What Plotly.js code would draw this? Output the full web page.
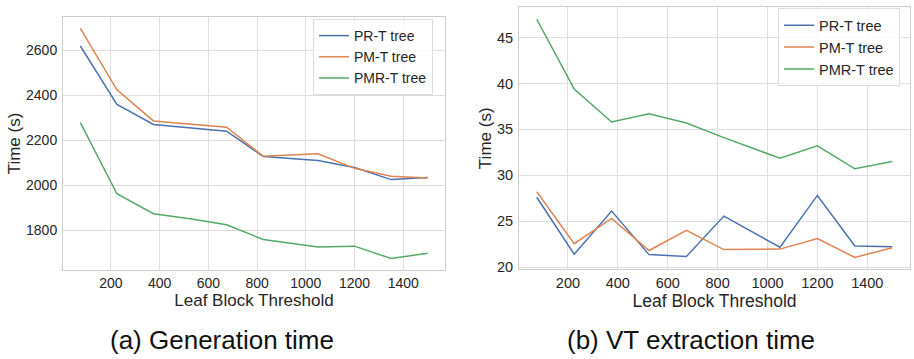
<!DOCTYPE html>
<html>
<head>
<meta charset="utf-8">
<script src="https://cdn.plot.ly/plotly-3.0.1.min.js"></script>
<style>html,body{margin:0;padding:0;background:#fff;}#chart{width:914px;height:359px;}</style>
</head>
<body>
<div id="chart"></div>
<script>
// Data
const thresholds = [75, 225, 375, 525, 675, 825, 1050, 1200, 1350, 1500];
const seriesNames = ["PR-T tree", "PM-T tree", "PMR-T tree"];
const genPR  = [2620, 2360, 2271, 2256, 2241, 2129, 2111, 2080, 2026, 2035];
const genPM  = [2698, 2425, 2287, 2273, 2259, 2130, 2141, 2076, 2041, 2033];
const genPMR = [2279, 1963, 1874, 1852, 1825, 1760, 1726, 1730, 1675, 1698];
const vtPR   = [27.6, 21.4, 26.1, 21.35, 21.15, 25.55, 22.15, 27.8, 22.3, 22.2];
const vtPM   = [28.2, 22.55, 25.3, 21.8, 24.0, 21.9, 21.95, 23.1, 21.05, 22.1];
const vtPMR  = [47.0, 39.4, 35.8, 36.7, 35.7, 34.1, 31.85, 33.2, 30.7, 31.5];
const xTicks = [200, 400, 600, 800, 1000, 1200, 1400];
const genYTicks = [1800, 2000, 2200, 2400, 2600];
const vtYTicks = [20, 25, 30, 35, 40, 45];
const xTitle = "Leaf Block Threshold";
const yTitle = "Time (s)";
const subTitles = ["(a) Generation time", "(b) VT extraction time"];

const colors = ["#4C72B0", "#DD8452", "#55A868"];
const FONT = "Liberation Sans, Arial, sans-serif";
const W = 914, H = 359;

function mk(x, y, i, xa, ya, leg) {
  return {x: x, y: y, name: seriesNames[i], type: "scatter", mode: "lines",
    xaxis: xa, yaxis: ya, legend: leg,
    line: {color: colors[i], width: 1.5}};
}
const traces = [
  mk(thresholds, genPR, 0, "x", "y", "legend"),
  mk(thresholds, genPM, 1, "x", "y", "legend"),
  mk(thresholds, genPMR, 2, "x", "y", "legend"),
  mk(thresholds, vtPR, 0, "x2", "y2", "legend2"),
  mk(thresholds, vtPM, 1, "x2", "y2", "legend2"),
  mk(thresholds, vtPMR, 2, "x2", "y2", "legend2")
];

function axBase(fs) {
  return {showgrid: true, gridcolor: "#dedede", gridwidth: 1,
    showline: true, linecolor: "#cccccc", linewidth: 1, mirror: true,
    zeroline: false, ticks: "", tickfont: {family: FONT, size: fs, color: "#262626"},
    automargin: false, fixedrange: true};
}

const layout = {
  width: W, height: H,
  margin: {l: 0, r: 0, t: 0, b: 0},
  paper_bgcolor: "#ffffff", plot_bgcolor: "#ffffff",
  font: {family: FONT, color: "#262626"},
  xaxis: Object.assign(axBase(14), {domain: [63/W, 445/W], range: [3.75, 1571.25],
    tickvals: xTicks, anchor: "y",
    title: {text: xTitle, font: {family: FONT, size: 17, color: "#262626"}, standoff: 0}}),
  yaxis: Object.assign(axBase(14), {domain: [1 - 270/H, 1 - 17/H], range: [1624, 2749],
    tickvals: genYTicks, anchor: "x", ticklabelstandoff: 2,
    title: {text: yTitle, font: {family: FONT, size: 17, color: "#262626"}, standoff: 1}}),
  xaxis2: Object.assign(axBase(14.5), {domain: [519/W, 910/W], range: [3.75, 1571.25],
    tickvals: xTicks, anchor: "y2",
    title: {text: xTitle, font: {family: FONT, size: 17.5, color: "#262626"}, standoff: 0}}),
  yaxis2: Object.assign(axBase(14.5), {domain: [1 - 269.3/H, 1 - 7.3/H], range: [19.75, 48.3],
    tickvals: vtYTicks, anchor: "x2", ticklabelstandoff: 2,
    title: {text: yTitle, font: {family: FONT, size: 17, color: "#262626"}, standoff: 1}}),
  legend: {x: 313/W, y: 1 - 19/H, xanchor: "left", yanchor: "top",
    bgcolor: "rgba(255,255,255,0.8)", bordercolor: "#dddddd", borderwidth: 1,
    font: {family: FONT, size: 14, color: "#262626"}, itemwidth: 30, tracegroupgap: 0},
  legend2: {x: 778/W, y: 1 - 8.3/H, xanchor: "left", yanchor: "top",
    bgcolor: "rgba(255,255,255,0.8)", bordercolor: "#dddddd", borderwidth: 1,
    font: {family: FONT, size: 14.5, color: "#262626"}, itemwidth: 30, tracegroupgap: 0},
  showlegend: true,
  annotations: [
    {text: subTitles[0], xref: "paper", yref: "paper", x: 221.7/W, y: 1 - 340/H,
     xanchor: "center", yanchor: "middle", showarrow: false,
     font: {family: FONT, size: 26, color: "#111111"}},
    {text: subTitles[1], xref: "paper", yref: "paper", x: 691.3/W, y: 1 - 340/H,
     xanchor: "center", yanchor: "middle", showarrow: false,
     font: {family: FONT, size: 26, color: "#111111"}}
  ]
};

Plotly.newPlot("chart", traces, layout, {displayModeBar: false, staticPlot: true});
</script>
</body>
</html>
